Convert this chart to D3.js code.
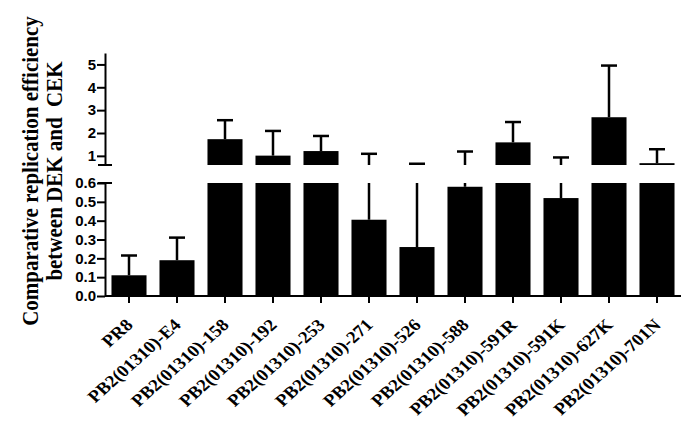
<!DOCTYPE html>
<html lang="en">
<head>
    <meta charset="UTF-8">
    <title>Replication efficiency</title>
    <script src="https://d3js.org/d3.v7.min.js"></script>
    <style>
        body { margin: 0; background: #fff; }
    </style>
</head>
<body>
<div style="width: 694px;height: 434px" id="figure"></div>
<script>

    // data
    let strains = ["PR8", "PB2(01310)-E4", "PB2(01310)-158", "PB2(01310)-192", "PB2(01310)-253",
        "PB2(01310)-271", "PB2(01310)-526", "PB2(01310)-588", "PB2(01310)-591R", "PB2(01310)-591K",
        "PB2(01310)-627K", "PB2(01310)-701N"];
    let means = [0.11, 0.19, 1.73, 1.01, 1.21, 0.405, 0.26, 0.58, 1.59, 0.52, 2.69, 0.68];
    let errTops = [0.215, 0.31, 2.56, 2.09, 1.87, 1.09, 0.655, 1.19, 2.48, 0.93, 4.95, 1.29];
    let lowTicks = [0, 0.1, 0.2, 0.3, 0.4, 0.5, 0.6];
    let highTicks = [1, 2, 3, 4, 5];

    let figure = document.getElementById("figure");
    let w = figure.clientWidth;
    let h = figure.clientHeight;
    let axisX = 105;
    let capW = 16;
    let stretch = 1.12; // the original picture is a bit wider than tall

    let svg = d3.select(figure).append("svg")
        .attr('width', w)
        .attr('height', h);
    let plot = svg.append('g').attr('id', 'plot');

    let xScale = d3.scaleBand()
        .domain(strains)
        .range([axisX, 681])
        .paddingInner(0.27)
        .paddingOuter(0.135);
    // broken y axis: two segments
    let yLow = d3.scaleLinear().domain([0, 0.6]).range([296, 183]);
    let yHigh = d3.scaleLinear().domain([0.6, 5.5]).range([165, 53]);

    // bars
    strains.forEach((s, i) => {
        let x = xScale(s);
        let bw = xScale.bandwidth();
        let v = means[i];
        plot.append('rect')
            .attr('x', x)
            .attr('y', yLow(Math.min(v, 0.6)))
            .attr('width', bw)
            .attr('height', yLow(0) - yLow(Math.min(v, 0.6)))
            .style('fill', 'black');
        if (v > 0.6) {
            plot.append('rect')
                .attr('x', x)
                .attr('y', yHigh(v))
                .attr('width', bw)
                .attr('height', yHigh(0.6) - yHigh(v))
                .style('fill', 'black');
        }
    });

    // error bars (upper only)
    strains.forEach((s, i) => {
        let cx = xScale(s) + xScale.bandwidth() / 2;
        let v = means[i];
        let e = errTops[i];
        let segs = [];
        if (v < 0.6) {
            segs.push([yLow(v), yLow(Math.min(e, 0.6))]);
            if (e > 0.6) segs.push([yHigh(0.6), yHigh(e)]);
        } else {
            segs.push([yHigh(v), yHigh(e)]);
        }
        segs.forEach(sg => {
            plot.append('line')
                .style('stroke', 'black')
                .style('stroke-width', 2.5)
                .attr('x1', cx).attr('x2', cx)
                .attr('y1', sg[0]).attr('y2', sg[1]);
        });
        let ye = e > 0.6 ? yHigh(e) : yLow(e);
        plot.append('line')
            .style('stroke', 'black')
            .style('stroke-width', 2.5)
            .attr('x1', cx - capW / 2).attr('x2', cx + capW / 2)
            .attr('y1', ye).attr('y2', ye);
    });

    // axes
    let lowAxis = plot.append('g')
        .attr('transform', `translate(${axisX},0)`)
        .call(d3.axisLeft(yLow).tickValues(lowTicks).tickFormat(d3.format('.1f')).tickSize(8).tickSizeOuter(0).tickPadding(1));
    let highAxis = plot.append('g')
        .attr('transform', `translate(${axisX},0)`)
        .call(d3.axisLeft(yHigh).tickValues(highTicks).tickFormat(d3.format('d')).tickSize(8).tickSizeOuter(0).tickPadding(1));
    let xAxis = plot.append('g')
        .attr('transform', `translate(0,${yLow(0)})`)
        .call(d3.axisBottom(xScale).tickSize(7).tickSizeOuter(0).tickFormat(''));

    [lowAxis, highAxis, xAxis].forEach(a => {
        a.selectAll('path, line').style('stroke', 'black').style('stroke-width', 2);
        a.selectAll('text')
            .style('font-family', 'Liberation Sans, Arial, sans-serif')
            .style('font-weight', 'bold')
            .style('font-size', '15px')
            .style('fill', 'black');
    });
    xAxis.select('.domain').attr('d', `M${axisX},0H681`);

    // break caps at the segment ends
    [yLow(0.6), yHigh(0.6)].forEach(y => {
        plot.append('line')
            .style('stroke', 'black')
            .style('stroke-width', 2)
            .attr('x1', axisX - 7).attr('x2', axisX + 7)
            .attr('y1', y).attr('y2', y);
    });

    // category labels, rotated
    plot.selectAll('.xlab')
        .data(strains)
        .enter().append('text')
        .attr('class', 'xlab')
        .attr('transform', d => `translate(${xScale(d) + xScale.bandwidth() / 2 + 5},${yLow(0) + 30}) scale(${stretch},1) rotate(-45)`)
        .attr('text-anchor', 'end')
        .style('font-family', 'Liberation Serif, Times New Roman, serif')
        .style('font-weight', 'bold')
        .style('font-size', '17px')
        .text(d => d);

    // y title
    let title = plot.append('text')
        .attr('transform', `translate(38,171) scale(${stretch},1) rotate(-90)`)
        .attr('text-anchor', 'middle')
        .style('font-family', 'Liberation Serif, Times New Roman, serif')
        .style('font-weight', 'bold')
        .style('font-size', '21px');
    title.append('tspan').attr('x', 0).attr('y', 0).text('Comparative replication efficiency');
    title.append('tspan').attr('x', 0).attr('y', 21).text('between DEK and  CEK').attr('xml:space', 'preserve');

</script>
</body>
</html>
